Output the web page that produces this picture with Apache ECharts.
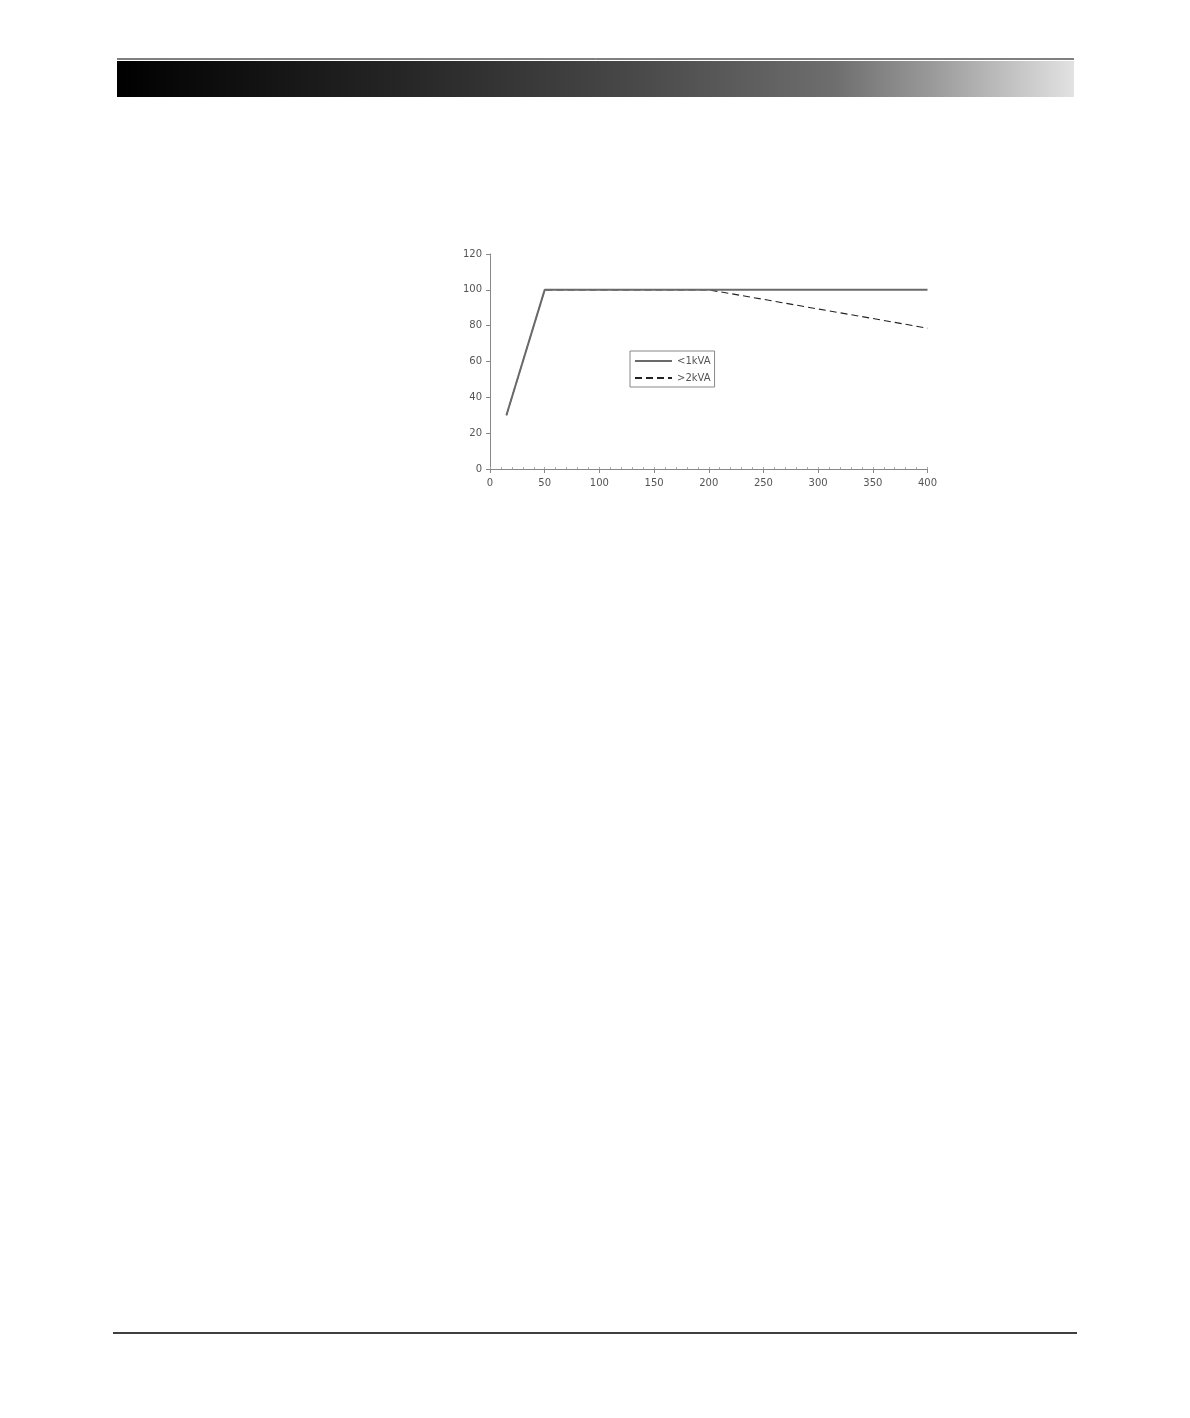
<!DOCTYPE html>
<html>
<head>
<meta charset="utf-8">
<script src="https://cdn.jsdelivr.net/npm/echarts@6/dist/echarts.min.js"></script>
<style>
html,body{margin:0;padding:0;background:#fff;}
#c{width:1190px;height:1418px;}
</style>
</head>
<body>
<div id="c"></div>
<script>
// Data
var seriesNames = ['<1kVA', '>2kVA'];
var smallKvaX = [15, 50, 400];
var smallKvaY = [30, 100, 100];
var largeKvaX = [15, 50, 200, 250, 300, 350, 400];
var largeKvaY = [30, 100, 100, 94.7, 89.3, 84, 78.6];
var xTicks = [0, 50, 100, 150, 200, 250, 300, 350, 400];
var yTicks = [0, 20, 40, 60, 80, 100, 120];

function pairs(xs, ys) { return xs.map(function (x, i) { return [x, ys[i]]; }); }

var font = 'DejaVu Sans';
var labelColor = '#555';
var axisColor = '#888';

var chart = echarts.init(document.getElementById('c'), null, {renderer: 'canvas'});
chart.setOption({
  animation: false,
  backgroundColor: '#fff',
  textStyle: {fontFamily: font},
  graphic: [
    {type: 'line', shape: {x1: 117, y1: 59, x2: 1074, y2: 59}, style: {stroke: '#000', lineWidth: 1}},
    {type: 'rect', shape: {x: 117, y: 61, width: 957, height: 36},
      style: {fill: new echarts.graphic.LinearGradient(0, 0, 1, 0, [
        {offset: 0, color: '#000'},
        {offset: 0.3, color: '#262626'},
        {offset: 0.55, color: '#4a4a4a'},
        {offset: 0.75, color: '#6e6e6e'},
        {offset: 0.85, color: '#999'},
        {offset: 1, color: '#e2e2e2'}
      ])}},
    {type: 'line', shape: {x1: 113, y1: 1333, x2: 1077, y2: 1333}, style: {stroke: '#000', lineWidth: 1.5}}
  ],
  grid: {left: 490, top: 254, right: 262.5, bottom: 949, containLabel: false},
  legend: {
    orient: 'vertical',
    left: 630, top: 351,
    itemWidth: 37, itemHeight: 8, itemGap: 7,
    padding: [5, 4, 4, 4],
    borderColor: '#888', borderWidth: 1,
    itemStyle: {color: 'rgba(0,0,0,0)', borderWidth: 0, opacity: 0},
    textStyle: {fontSize: 10, color: labelColor, fontFamily: font, padding: [0, 0, 0, 0]},
    data: [{name: seriesNames[0]}, {name: seriesNames[1]}]
  },
  xAxis: [{
    type: 'value', min: 0, max: 400, interval: 50,
    axisLine: {lineStyle: {color: axisColor, width: 1}},
    axisTick: {show: true, length: 4, lineStyle: {color: axisColor}},
    axisLabel: {fontSize: 10, color: labelColor, margin: 9, fontFamily: font},
    splitLine: {show: false}
  }, {
    type: 'value', min: 0, max: 400, interval: 10, position: 'bottom',
    axisLine: {show: false},
    axisTick: {show: true, inside: true, length: 2, lineStyle: {color: '#aaa'}},
    axisLabel: {show: false},
    splitLine: {show: false}
  }],
  yAxis: {
    type: 'value', min: 0, max: 120, interval: 20,
    axisLine: {show: true, lineStyle: {color: axisColor, width: 1}},
    axisTick: {show: true, length: 4, lineStyle: {color: axisColor}},
    axisLabel: {fontSize: 10, color: labelColor, margin: 8, fontFamily: font},
    splitLine: {show: false}
  },
  series: [
    {
      name: seriesNames[0], type: 'line', symbol: 'none', z: 3,
      lineStyle: {color: '#6a6a6a', width: 2},
      itemStyle: {color: '#6a6a6a'},
      data: pairs(smallKvaX, smallKvaY)
    },
    {
      name: seriesNames[1], type: 'line', symbol: 'none', z: 2,
      lineStyle: {color: '#222', width: 1.1, type: [7, 4]},
      itemStyle: {color: '#222'},
      data: pairs(largeKvaX, largeKvaY)
    }
  ]
});
</script>
</body>
</html>
